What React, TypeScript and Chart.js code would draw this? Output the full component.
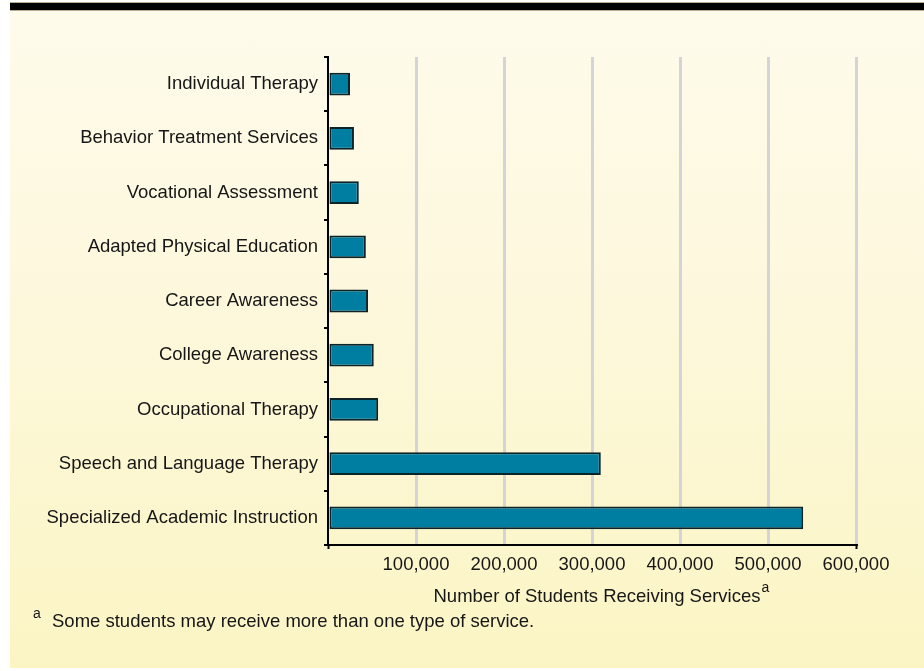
import React, { useEffect, useRef } from 'react';
import { Chart, registerables } from 'chart.js';

Chart.register(...registerables);

const categories: string[] = [
  'Individual Therapy',
  'Behavior Treatment Services',
  'Vocational Assessment',
  'Adapted Physical Education',
  'Career Awareness',
  'College Awareness',
  'Occupational Therapy',
  'Speech and Language Therapy',
  'Specialized Academic Instruction',
];

const studentsReceiving: number[] = [
  25000, 29500, 35000, 43000, 45500, 52000, 57000, 310000, 540000,
];

const axisMin = 0;
const axisMax = 600000;
const axisStep = 100000;

const axisTitle = 'Number of Students Receiving Services';
const footnoteMark = 'a';
const footnoteText = 'Some students may receive more than one type of service.';

const FONT = '"Liberation Sans", Arial, Helvetica, sans-serif';
const TEXT = '#161616';
const FS = 18.5;

const textPlugin = {
  id: 'extraText',
  afterDraw(chart: any) {
    const { ctx, chartArea } = chart;
    ctx.save();
    ctx.fillStyle = TEXT;
    ctx.textBaseline = 'alphabetic';
    ctx.textAlign = 'left';
    // axis title with superscript
    ctx.font = `${FS}px ${FONT}`;
    const cx = (chartArea.left + chartArea.right) / 2 + 5;
    const ty = chartArea.bottom + 57;
    const w = ctx.measureText(axisTitle).width;
    ctx.fillText(axisTitle, cx - w / 2, ty);
    ctx.font = `14px ${FONT}`;
    ctx.fillText(footnoteMark, cx + w / 2 + 1, ty - 10);
    // footnote
    ctx.font = `14px ${FONT}`;
    ctx.fillText(footnoteMark, 33, 618);
    ctx.font = `${FS}px ${FONT}`;
    ctx.fillText(footnoteText, 52, 627);
    ctx.restore();
  },
};

export default function App() {
  const canvasRef = useRef<HTMLCanvasElement | null>(null);

  useEffect(() => {
    if (!canvasRef.current) return;
    const chart = new Chart(canvasRef.current, {
      type: 'bar',
      data: {
        labels: categories,
        datasets: [
          {
            label: 'Number of Students Receiving Services',
            data: studentsReceiving,
            backgroundColor: '#007ea2',
            borderColor: '#0c2328',
            borderWidth: 2,
            borderSkipped: false,
            barPercentage: 0.42,
            categoryPercentage: 1.0,
          },
        ],
      },
      options: {
        indexAxis: 'y',
        responsive: false,
        animation: false,
        devicePixelRatio: 1,
        layout: { padding: { top: 57, right: 68, bottom: 0, left: 0 } },
        plugins: {
          legend: { display: false },
          tooltip: { enabled: false },
          title: { display: false },
        },
        scales: {
          x: {
            type: 'linear',
            position: 'bottom',
            min: axisMin,
            max: axisMax,
            ticks: {
              stepSize: axisStep,
              color: TEXT,
              font: { family: FONT, size: FS },
              padding: 5,
              maxRotation: 0,
              callback: (v: any) => (Number(v) === 0 ? '' : Number(v).toLocaleString('en-US')),
            },
            grid: {
              color: (c: any) => (c.tick && c.tick.value === 0 ? 'rgba(0,0,0,0)' : '#d4d4d6'),
              lineWidth: 3,
              tickLength: 4,
              tickWidth: 2,
              tickColor: (c: any) =>
                c.tick && (c.tick.value === axisMin || c.tick.value === axisMax) ? '#000' : 'rgba(0,0,0,0)',
            },
            border: { display: true, color: '#000', width: 2 },
            afterFit: (s: any) => {
              s.height = 126;
            },
          },
          y: {
            type: 'category',
            ticks: {
              color: TEXT,
              font: { family: FONT, size: FS },
              padding: 6,
            },
            grid: {
              drawOnChartArea: false,
              drawTicks: true,
              tickLength: 4,
              color: '#000',
              lineWidth: 2,
            },
            border: { display: true, color: '#000', width: 2 },
            afterFit: (s: any) => {
              s.width = 328;
            },
          },
        },
      },
      plugins: [textPlugin],
    });
    return () => chart.destroy();
  }, []);

  return (
    <div style={{ position: 'absolute', left: 0, top: 0, width: 924, height: 671, background: '#ffffff', overflow: 'hidden' }}>
      <div
        style={{
          position: 'absolute',
          left: 10,
          top: 3,
          width: 914,
          height: 665,
          background: 'linear-gradient(to bottom, #fefbec 0%, #fdf8dc 45%, #fbf5c4 100%)',
        }}
      />
      <div
        style={{
          position: 'absolute',
          left: 10,
          top: 2,
          width: 914,
          height: 7,
          background: '#000',
          borderTop: '1px solid #b7ae90',
          borderBottom: '1px solid #b7ae90',
        }}
      />
      <canvas ref={canvasRef} width={924} height={671} style={{ position: 'absolute', left: 0, top: 0 }} />
    </div>
  );
}
